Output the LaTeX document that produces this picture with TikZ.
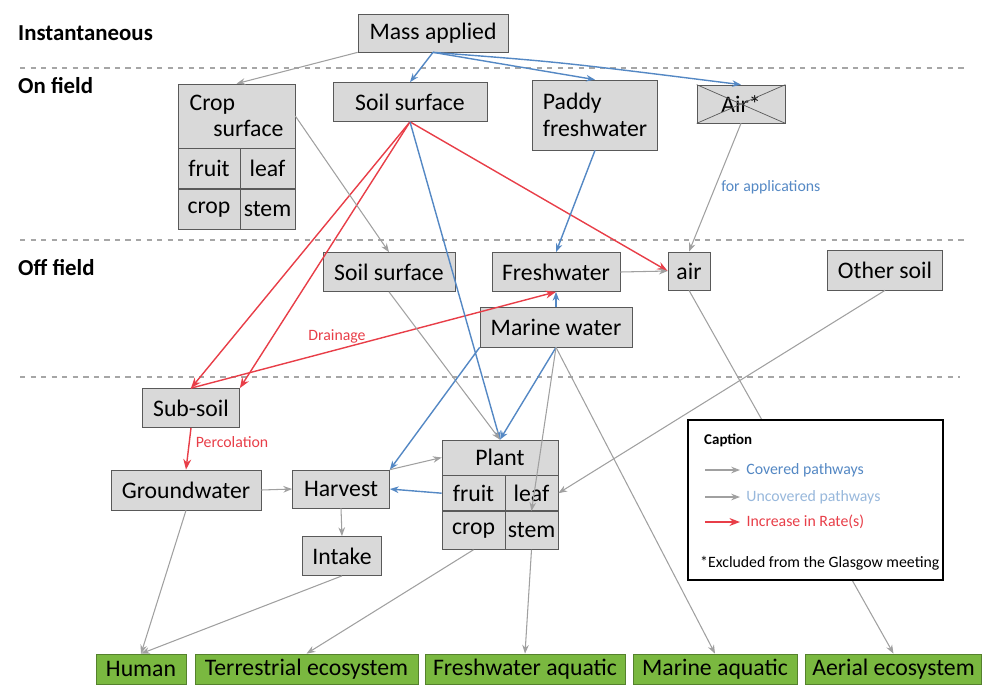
\documentclass[tikz,border=0pt]{standalone}
\usepackage{fontspec}
\setmainfont{Carlito}
\usetikzlibrary{arrows.meta}
\definecolor{flowblue}{RGB}{84,136,196}
\definecolor{flowgrey}{RGB}{160,160,160}
\definecolor{flowred}{RGB}{232,62,72}
\definecolor{boxgrey}{RGB}{217,217,217}
\definecolor{sinkgreen}{RGB}{122,184,64}
\tikzset{
  box/.style={draw=gray!70!black, fill=boxgrey, inner sep=1pt, font=\fontsize{13.5}{15}\selectfont},
  sink/.style={draw=sinkgreen!70!black, fill=sinkgreen, inner sep=1pt, minimum height=0.6cm, font=\fontsize{13.5}{15}\selectfont},
  zone/.style={anchor=west, font=\bfseries\fontsize{13}{15}\selectfont},
  sep/.style={dashed, gray!70, thick},
  blueflow/.style={flowblue, thick, -{Stealth[length=5pt]}},
  greyflow/.style={flowgrey, semithick, -{Stealth[length=5pt]}},
  redflow/.style={flowred, thick, -{Stealth[length=6pt]}},
  note/.style={font=\fontsize{9}{10}\selectfont}
}
\begin{document}
\begin{tikzpicture}[x=0.02cm, y=-0.02cm]
  \useasboundingbox (0,0) rectangle (982,684);

  % Zones
  \node[zone] (inst) at (12,33) {Instantaneous};
  \node[zone] (onf) at (12,86) {On field};
  \node[zone] (offf) at (12,268) {Off field};
  \draw[sep] (20,68) -- (965,68);
  \draw[sep] (20,240) -- (965,240);
  \draw[sep] (20,377) -- (960,377);

  % Instantaneous
  \node[box, minimum width=3cm, minimum height=0.76cm] (mass) at (433,33) {Mass applied};

  % On field
  \node[box, minimum width=2.34cm, minimum height=1.28cm, align=left] (cs) at (236.5,116) {Crop\\\quad surface};
  \node[box, anchor=north west, minimum width=1.24cm, minimum height=0.8cm] (cfruit) at (cs.south west) {fruit};
  \node[box, anchor=north east, minimum width=1.1cm, minimum height=0.8cm] (cleaf) at (cs.south east) {leaf};
  \node[box, anchor=north west, minimum width=1.24cm, minimum height=0.8cm] (ccrop) at (cfruit.south west) {crop};
  \node[box, anchor=north east, minimum width=1.1cm, minimum height=0.8cm] (cstem) at (cleaf.south east) {stem};
  \node[box, minimum width=3.08cm, minimum height=0.78cm] (soilon) at (410,102) {Soil surface};
  \node[box, minimum width=2.5cm, minimum height=1.4cm, align=left] (paddy) at (595,115) {Paddy\\freshwater};
  \node[box, minimum width=1.76cm, minimum height=0.76cm] (airon) at (741,104) {Air*};
  \draw[gray!70!black] (airon.north west) -- (airon.south east) (airon.south west) -- (airon.north east);

  % Off field
  \node[box, minimum width=2.64cm, minimum height=0.78cm] (soiloff) at (389,272) {Soil surface};
  \node[box, minimum width=2.56cm, minimum height=0.78cm] (fresh) at (556,272) {Freshwater};
  \node[box, minimum width=0.84cm, minimum height=0.76cm] (airoff) at (689,271) {air};
  \node[box, minimum width=2.3cm, minimum height=0.8cm] (other) at (885,270) {Other soil};
  \node[box, minimum width=3.04cm, minimum height=0.8cm] (marine) at (556,327) {Marine water};

  % Below ground and uptake
  \node[box, minimum width=1.94cm, minimum height=0.78cm] (subsoil) at (191,408) {Sub-soil};
  \node[box, minimum width=3cm, minimum height=0.8cm] (ground) at (186,490) {Groundwater};
  \node[box, minimum width=1.94cm, minimum height=0.76cm] (harvest) at (341,489) {Harvest};
  \node[box, minimum width=1.58cm, minimum height=0.78cm] (intake) at (342,556) {Intake};
  \node[box, minimum width=2.32cm, minimum height=0.7cm] (plant) at (500,457.5) {Plant};
  \node[box, anchor=north west, minimum width=1.26cm, minimum height=0.7cm] (pfruit) at (plant.south west) {fruit};
  \node[box, anchor=north east, minimum width=1.06cm, minimum height=0.7cm] (pleaf) at (plant.south east) {leaf};
  \node[box, anchor=north west, minimum width=1.26cm, minimum height=0.76cm] (pcrop) at (pfruit.south west) {crop};
  \node[box, anchor=north east, minimum width=1.06cm, minimum height=0.76cm] (pstem) at (pleaf.south east) {stem};

  % Receptors
  \node[sink, minimum width=1.8cm] (human) at (141,669) {Human};
  \node[sink, minimum width=4.46cm] (terr) at (306.5,669) {Terrestrial ecosystem};
  \node[sink, minimum width=4cm] (freshaq) at (525,669) {Freshwater aquatic};
  \node[sink, minimum width=3.28cm] (marineaq) at (715,669) {Marine aquatic};
  \node[sink, minimum width=3.53cm] (aerial) at (893.5,669) {Aerial ecosystem};

  % Application
  \draw[blueflow] (mass.south) -- (soilon.north);
  \draw[blueflow] (mass.south) -- (paddy.north);
  \draw[blueflow] (mass.south) .. controls (560,62) .. (airon.north);
  \draw[greyflow] (mass.south west) -- (cs.north);

  % Transfers
  \draw[redflow] (soilon.south) -- (subsoil.north);
  \draw[redflow] (soilon.south) -- (subsoil.north east);
  \draw[redflow] (soilon.south) -- (airoff.west);
  \draw[redflow] (subsoil.north) -- node[pos=0.4, above, note, text=flowred] {Drainage} (fresh.south);
  \draw[redflow] (subsoil.south) -- node[right, pos=0.35, note, text=flowred] {Percolation} (ground.north);
  \draw[blueflow] (paddy.south) -- (fresh.north);
  \draw[greyflow] (airon.south) -- node[right, pos=0.5, note, text=flowblue] {for applications} (airoff.north);
  \draw[greyflow] (fresh.east) -- (airoff.west);
  \draw[greyflow] (cs.east) -- (soiloff.north);
  \draw[blueflow] (soilon.south) -- (plant.north);
  \draw[greyflow] (soiloff.south) -- (plant.north);
  \draw[blueflow] (marine.north) -- (fresh.south);
  \draw[blueflow] (marine.south) -- (plant.north);
  \draw[blueflow] (marine.south west) -- (harvest.north east);
  \draw[greyflow] (marine.south) -- (pstem.north);
  \draw[greyflow] (other.south) -- (pleaf.east);
  \draw[blueflow] (pfruit.west) -- (harvest.east);
  \draw[greyflow] (harvest.north east) -- (plant.west);
  \draw[greyflow] (ground.east) -- (harvest.west);
  \draw[greyflow] (harvest.south) -- (intake.north);

  % To receptors
  \draw[greyflow] (ground.south) -- (human.north);
  \draw[greyflow] (intake.south) -- (human.north);
  \draw[greyflow] (pcrop.south) -- (terr.north);
  \draw[greyflow] (pstem.south) -- (freshaq.north);
  \draw[greyflow] (marine.south) -- (marineaq.north);
  \draw[greyflow] (airoff.south) -- (aerial.north);

  % Caption
  \node[draw=black, very thick, fill=white, minimum width=5.1cm, minimum height=3.2cm] (caption) at (815.5,500) {};
  \node[note, font=\bfseries\fontsize{8.5}{10}\selectfont, anchor=west] (captitle) at (698,440) {Caption};
  \coordinate (k1) at (705,470);
  \coordinate (k2) at (705,497);
  \coordinate (k3) at (705,522);
  \draw[greyflow] (k1) -- ++(35,0) node[right, note, text=flowblue] (key1) {Covered pathways};
  \draw[greyflow] (k2) -- ++(35,0) node[right, note, text=flowblue!60] (key2) {Uncovered pathways};
  \draw[redflow] (k3) -- ++(35,0) node[right, note, text=flowred] (key3) {Increase in Rate(s)};
  \node[note, anchor=west] (excl) at (694,563) {*Excluded from the Glasgow meeting};
\end{tikzpicture}
\end{document}
